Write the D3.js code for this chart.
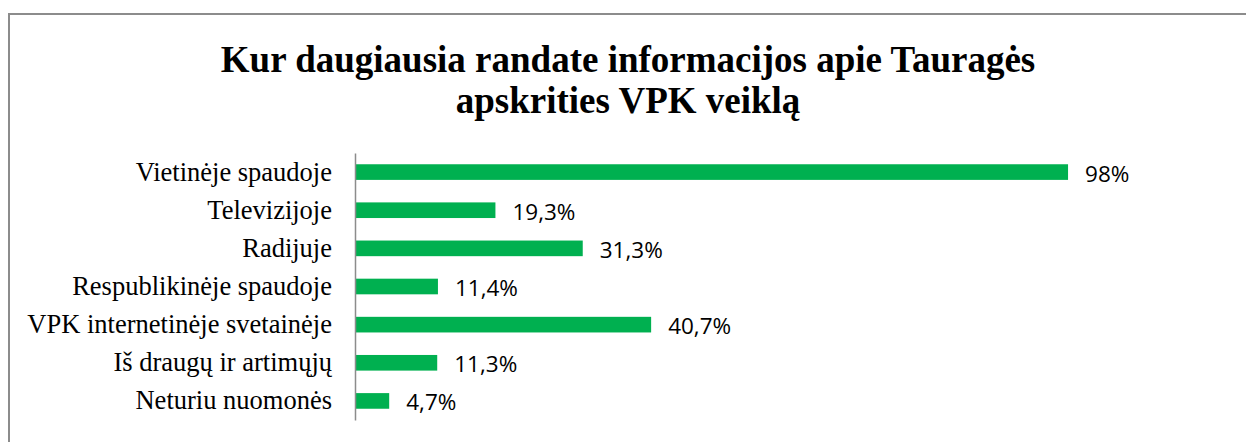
<!DOCTYPE html>
<html>
<head>
<meta charset="utf-8">
<script src="https://cdn.jsdelivr.net/npm/d3@7"></script>
<style>
  body { margin: 0; background: #fff; }
  svg { display: block; }
</style>
</head>
<body>
<div id="chart"></div>
<script>
const width = 1246, height = 442;

// data
const categories = ["Vietinėje spaudoje", "Televizijoje", "Radijuje", "Respublikinėje spaudoje",
                    "VPK internetinėje svetainėje", "Iš draugų ir artimųjų", "Neturiu nuomonės"];
const values = [98, 19.3, 31.3, 11.4, 40.7, 11.3, 4.7];
const valueLabels = ["98%", "19,3%", "31,3%", "11,4%", "40,7%", "11,3%", "4,7%"];
const titleLines = ["Kur daugiausia randate informacijos apie Tauragės", "apskrities VPK veiklą"];

const svg = d3.select("#chart").append("svg")
    .attr("width", width)
    .attr("height", height);

// outer frame (runs off the right and bottom edges)
svg.append("rect")
    .attr("x", 9).attr("y", 14)
    .attr("width", width + 20).attr("height", height + 20)
    .attr("fill", "none")
    .attr("stroke", "#8c8c8c")
    .attr("stroke-width", 2);

// title
svg.append("g").selectAll("text")
    .data(titleLines)
    .join("text")
    .attr("x", 628)
    .attr("y", (d, i) => 71.5 + i * 41.5)
    .attr("text-anchor", "middle")
    .style("font-family", "'Liberation Serif', 'Times New Roman', serif")
    .style("font-weight", "bold")
    .style("font-size", "37px")
    .text(d => d);

const x = d3.scaleLinear().domain([0, 100]).range([355, 355 + 727.6]);
const y = d3.scaleBand().domain(categories).range([153, 420])
    .paddingInner(0.59).paddingOuter(0.295);

// bars
svg.append("g").selectAll("rect")
    .data(values)
    .join("rect")
    .attr("x", x(0))
    .attr("y", (d, i) => y(categories[i]))
    .attr("width", d => x(d) - x(0))
    .attr("height", y.bandwidth())
    .attr("fill", "#00b050");

// value labels
svg.append("g").selectAll("text")
    .data(values)
    .join("text")
    .attr("x", d => x(d) + 17)
    .attr("y", (d, i) => y(categories[i]) + y.bandwidth() / 2 + 9.5)
    .style("font-family", "'Open Sans', sans-serif")
    .style("font-size", "22.5px")
    .style("fill", "#000")
    .text((d, i) => valueLabels[i]);

// category axis
const axis = svg.append("g")
    .attr("transform", `translate(${x(0)},0)`)
    .call(d3.axisLeft(y).tickSize(0).tickPadding(23));

axis.select(".domain")
    .attr("stroke", "#8c8c8c")
    .attr("stroke-width", 1.5);

axis.selectAll("text")
    .style("font-family", "'Liberation Serif', 'Times New Roman', serif")
    .style("font-size", "26.5px")
    .style("fill", "#000");
</script>
</body>
</html>
